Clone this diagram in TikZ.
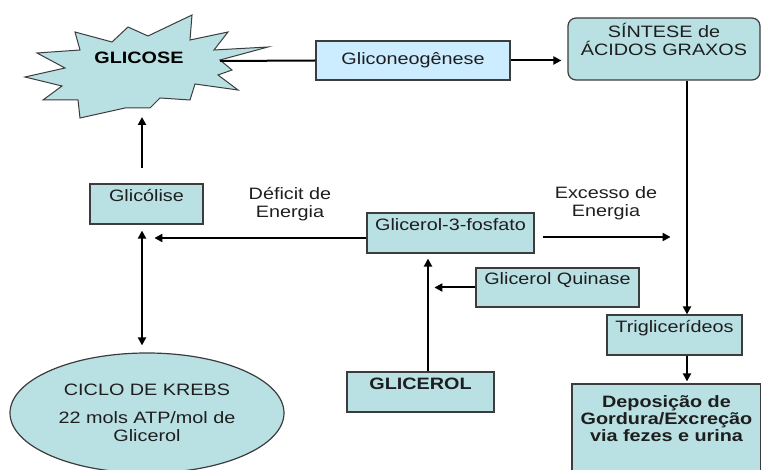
\documentclass[tikz,border=0pt]{standalone}
\usepackage{fontspec}
\setmainfont[FakeStretch=1.2]{Liberation Sans}
\usetikzlibrary{arrows.meta,shapes.geometric}
\definecolor{tealbox}{HTML}{B9E0E3}
\definecolor{bluebox}{HTML}{CCECFF}
\definecolor{edge}{HTML}{3C3C3C}
\definecolor{ink}{HTML}{1E1E1E}
\tikzset{
    txt/.style={font=\fontsize{16.5}{18}\selectfont, text=ink, align=center},
    cell/.style={txt, draw=edge, line width=1.2pt, fill=tealbox, inner sep=0pt, text height=18pt, text depth=22pt},
    arr/.style={line width=2pt, -{Triangle[length=8pt,width=8pt]}},
    link/.style={line width=2pt},
}
\begin{document}
\begin{tikzpicture}[x=1pt,y=-1pt]
        \useasboundingbox (0,0) rectangle (761,470);
        \clip (0,0) rectangle (761,470);
        \coordinate (colL) at (142,0);
        \coordinate (colG) at (428,0);
        \coordinate (colR) at (687,0);
        \draw[draw=edge, line width=1pt, fill=tealbox] (25,77) -- (65,68) -- (37,53) -- (80,50) -- (75,32)
            -- (112,42) -- (128,27) -- (148,36) -- (192,15) -- (190,40) -- (228,32) -- (214,50) -- (268,47)
            -- (220,60) -- (232,70) -- (218,75) -- (238,90) -- (195,84) -- (190,100) -- (160,98) -- (150,108)
            -- (125,108) -- (80,118) -- (78,100) -- (43,100) -- (62,86) -- cycle;
        \node[txt, font=\fontsize{16.5}{18}\selectfont\bfseries, text=black] (glicose) at (139,58) {GLICOSE};
        \coordinate (burstR) at (220,61);
        \coordinate (burstB) at (142,117);
        \node[cell, fill=bluebox, minimum width=194pt, minimum height=39pt, text height=24pt, text depth=15pt] (gliconeo) at (413,60.5) {Gliconeogênese};
        \node[cell, rounded corners=8pt, minimum width=192pt, minimum height=62pt, text height=38pt, text depth=24pt] (sintese) at (664,49) {SÍNTESE de\\ÁCIDOS GRAXOS};
        \node[cell, minimum width=113pt, minimum height=40pt] (glicolise) at (146.5,204) {Glicólise};
        \node[cell, minimum width=167pt, minimum height=40pt] (g3p) at (450.5,233) {Glicerol-3-fosfato};
        \node[cell, minimum width=163pt, minimum height=39pt, text height=17pt] (quinase) at (557.5,287.5) {Glicerol Quinase};
        \node[cell, font=\fontsize{16.5}{18}\selectfont\bfseries, minimum width=147pt, minimum height=40pt] (glicerol) at (420.5,392) {GLICEROL};
        \node[cell, minimum width=135pt, minimum height=40pt] (trig) at (674.5,335) {Triglicerídeos};
        \node[cell, font=\fontsize{16.5}{17}\selectfont\bfseries, minimum width=189pt, minimum height=92pt, text height=58pt, text depth=34pt] (deposicao) at (666.5,430) {Deposição de\\Gordura/Excreção\\via fezes e urina};
        \node[txt, ellipse, draw=edge, line width=1.2pt, fill=tealbox, minimum width=274pt, minimum height=120pt, inner sep=0pt] (krebs) at (147,413) {CICLO DE KREBS\\[10pt]22 mols ATP/mol de\\Glicerol};
        \node[txt] (deficit) at (290,204) {Déficit de\\Energia};
        \node[txt] (excesso) at (606,203) {Excesso de\\Energia};
        \draw[link] (burstR) -- (gliconeo.west);
        \draw[arr, shorten >=6pt] (gliconeo.east) -- (gliconeo.east -| sintese.west);
        \draw[arr] (sintese.south -| colR) -- (trig.north -| colR);
        \draw[arr, shorten >=2pt] (trig.south -| colR) -- (deposicao.north -| colR);
        \draw[arr] ([yshift=15pt]glicolise.north -| colL) -- (burstB);
        \draw[arr, {Triangle[length=8pt,width=8pt]}-{Triangle[length=8pt,width=8pt]}] ([yshift=-6pt]glicolise.south -| colL) -- ([yshift=7pt]krebs.north -| colL);
        \draw[arr] ([yshift=-5pt]g3p.west) -- ++(-212,0);
        \draw[arr] ([xshift=8pt,yshift=-4pt]g3p.east) -- ++(128,0);
        \draw[arr] (quinase.west) -- ++(-41,0);
        \draw[arr] (glicerol.north -| colG) -- ([yshift=-5pt]g3p.south -| colG);
\end{tikzpicture}
\end{document}
